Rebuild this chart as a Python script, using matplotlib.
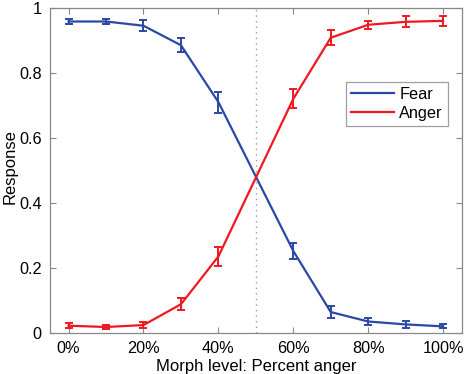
import matplotlib

matplotlib.use("Agg")
import matplotlib.pyplot as plt

plt.rcParams["font.family"] = ["Liberation Sans", "DejaVu Sans"]

# morph level (% anger); no 50% condition was measured
morph = [0, 10, 20, 30, 40, 60, 70, 80, 90, 100]
tick_labels = ["0%", "20%", "40%", "60%", "80%", "100%"]

fear = [0.958, 0.958, 0.945, 0.885, 0.710, 0.252, 0.064, 0.035, 0.026, 0.020]
fear_err = [0.008, 0.008, 0.017, 0.022, 0.032, 0.026, 0.019, 0.010, 0.012, 0.006]

anger = [0.022, 0.018, 0.024, 0.088, 0.235, 0.720, 0.908, 0.948, 0.957, 0.960]
anger_err = [0.007, 0.005, 0.010, 0.018, 0.029, 0.029, 0.023, 0.013, 0.017, 0.016]

blue = "#2a48a5"
red = "#f01820"

fig = plt.figure(figsize=(4.66, 3.74), dpi=100)
ax = fig.add_axes([0.107, 0.110, 0.884, 0.869])

ax.axvline(50, color="#999999", linestyle=(0, (1, 3)), linewidth=1, zorder=1)

ax.errorbar(morph, fear, yerr=fear_err, color=blue, linewidth=1.6,
            elinewidth=1.4, capsize=2.6, capthick=1.4, label="Fear", zorder=3)
ax.errorbar(morph, anger, yerr=anger_err, color=red, linewidth=1.6,
            elinewidth=1.4, capsize=2.6, capthick=1.4, label="Anger", zorder=3)

ax.set_xlim(-5, 105)
ax.set_ylim(0, 1)
ax.set_xticks(range(0, 101, 20))
ax.set_xticklabels(tick_labels)
ax.set_yticks([0, 0.2, 0.4, 0.6, 0.8, 1])
ax.set_yticklabels(["0", "0.2", "0.4", "0.6", "0.8", "1"])

ax.tick_params(direction="in", top=True, right=True, labelsize=11.7,
               length=4, color="#888888", pad=6)
for s in ax.spines.values():
    s.set_color("#888888")
    s.set_linewidth(0.9)

ax.set_xlabel("Morph level: Percent anger", fontsize=12, labelpad=2)
# y label placed by hand so it stays inside the narrow left margin
fig.text(10 / 466, 0.555, "Response", fontsize=12, rotation=90,
         ha="center", va="center")

handles, labels = ax.get_legend_handles_labels()
handles = [h[0] for h in handles]
leg = ax.legend(handles, labels, loc="upper left", bbox_to_anchor=(0.72, 0.772),
                fontsize=11.7, fancybox=False, edgecolor="#888888",
                handlelength=2.6, borderpad=0.3, labelspacing=0.25,
                handletextpad=0.35, borderaxespad=0)
leg.get_frame().set_linewidth(0.9)

fig.savefig("out.png", dpi=100)
